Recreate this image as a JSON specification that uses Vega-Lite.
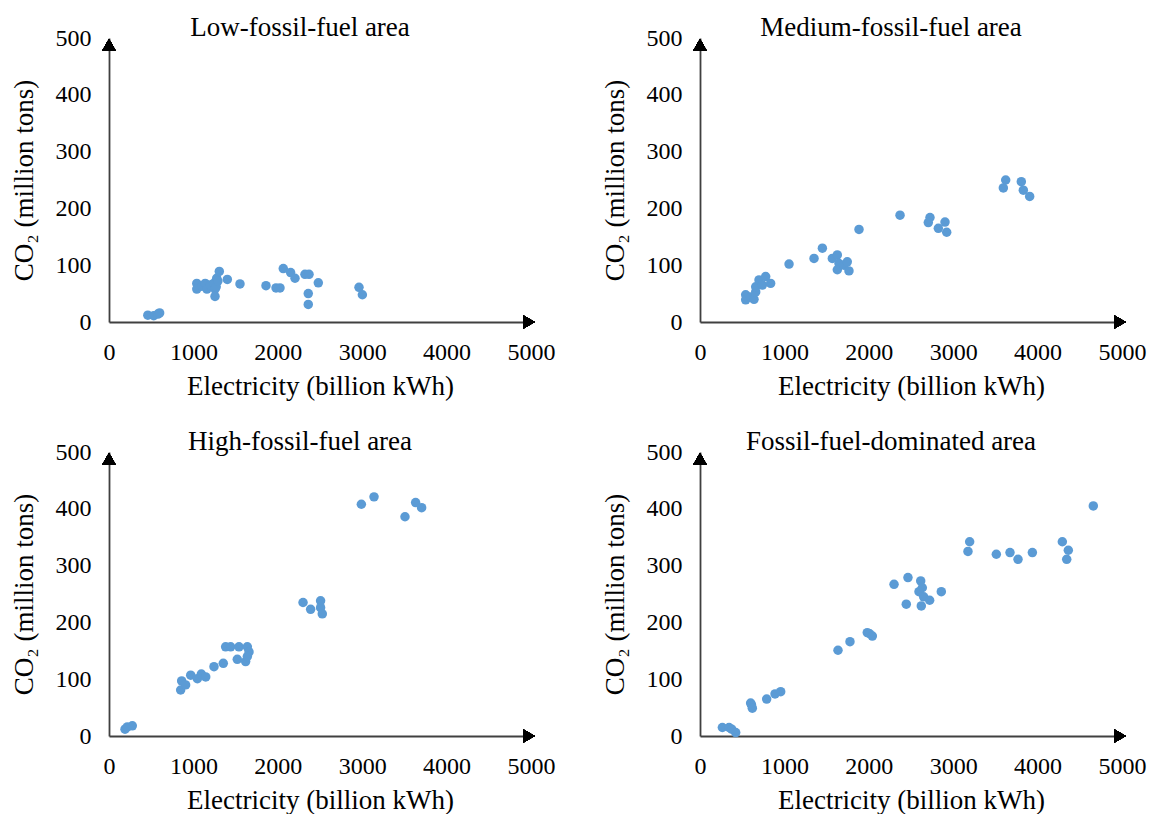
{
  "$schema": "https://vega.github.io/schema/vega-lite/v6.json",
  "padding": {"left": 10, "top": 14, "right": 5, "bottom": 5},
  "columns": 2,
  "spacing": {"row": 29, "column": 46},
  "config": {
    "view": {"stroke": null},
    "font": "Liberation Serif",
    "title": {"fontSize": 27, "fontWeight": "normal", "color": "#000", "offset": -16, "dx": -20},
    "axis": {
      "domain": true,
      "grid": false,
      "ticks": false,
      "domainColor": "#404040",
      "domainWidth": 1.8,
      "labelFont": "Liberation Serif",
      "labelFontSize": 24,
      "labelColor": "#000",
      "labelFlush": false,
      "labelOverlap": false,
      "format": "d",
      "titleFont": "Liberation Serif",
      "titleFontSize": 27,
      "titleFontWeight": "normal",
      "titleColor": "#000"
    },
    "axisX": {"labelPadding": 18, "titlePadding": 9},
    "axisY": {"labelPadding": 18, "titlePadding": 17}
  },
  "concat": [
    {
      "title": "Low-fossil-fuel  area",
      "width": 422,
      "height": 284,
      "data": {"values": [
        {"electricity": 460, "co2": 12}, {"electricity": 530, "co2": 11}, {"electricity": 580, "co2": 14}, {"electricity": 600, "co2": 16},
        {"electricity": 1040, "co2": 68}, {"electricity": 1040, "co2": 58}, {"electricity": 1100, "co2": 63}, {"electricity": 1140, "co2": 68},
        {"electricity": 1160, "co2": 58}, {"electricity": 1200, "co2": 65}, {"electricity": 1240, "co2": 68}, {"electricity": 1256, "co2": 58},
        {"electricity": 1256, "co2": 45}, {"electricity": 1270, "co2": 62}, {"electricity": 1276, "co2": 77}, {"electricity": 1290, "co2": 72},
        {"electricity": 1307, "co2": 89}, {"electricity": 1402, "co2": 75}, {"electricity": 1552, "co2": 67},
        {"electricity": 1860, "co2": 64}, {"electricity": 1979, "co2": 60}, {"electricity": 2026, "co2": 60}, {"electricity": 2065, "co2": 94},
        {"electricity": 2152, "co2": 87}, {"electricity": 2204, "co2": 77}, {"electricity": 2322, "co2": 84}, {"electricity": 2370, "co2": 84},
        {"electricity": 2480, "co2": 69}, {"electricity": 2361, "co2": 50}, {"electricity": 2361, "co2": 31},
        {"electricity": 2962, "co2": 61}, {"electricity": 3002, "co2": 48}
      ]},
      "encoding": {
        "x": {"field": "electricity", "type": "quantitative", "title": "Electricity (billion kWh)",
              "scale": {"domain": [0, 5000], "nice": false}, "axis": {"values": [0, 1000, 2000, 3000, 4000, 5000]}},
        "y": {"field": "co2", "type": "quantitative", "title": "CO₂ (million tons)",
              "scale": {"domain": [0, 500], "nice": false}, "axis": {"values": [0, 100, 200, 300, 400, 500]}}
      },
      "layer": [
        {"mark": {"type": "circle", "size": 90, "color": "#5B9BD5", "opacity": 1}},
        {"mark": {"type": "point", "shape": "triangle-right", "filled": true, "color": "#000", "opacity": 1, "size": 180},
         "encoding": {"x": {"datum": 4975, "type": "quantitative"}, "y": {"datum": 0, "type": "quantitative"}}},
        {"mark": {"type": "point", "shape": "triangle-up", "filled": true, "color": "#000", "opacity": 1, "size": 180},
         "encoding": {"x": {"datum": 0, "type": "quantitative"}, "y": {"datum": 488, "type": "quantitative"}}}
      ]
    },
    {
      "title": "Medium-fossil-fuel  area",
      "width": 422,
      "height": 284,
      "data": {"values": [
        {"electricity": 541, "co2": 48}, {"electricity": 541, "co2": 39}, {"electricity": 600, "co2": 44}, {"electricity": 640, "co2": 40},
        {"electricity": 660, "co2": 53}, {"electricity": 660, "co2": 62}, {"electricity": 699, "co2": 74}, {"electricity": 739, "co2": 65},
        {"electricity": 778, "co2": 80}, {"electricity": 837, "co2": 68}, {"electricity": 1055, "co2": 102}, {"electricity": 1351, "co2": 112},
        {"electricity": 1450, "co2": 130}, {"electricity": 1568, "co2": 112}, {"electricity": 1627, "co2": 118}, {"electricity": 1647, "co2": 103},
        {"electricity": 1627, "co2": 92}, {"electricity": 1706, "co2": 100}, {"electricity": 1745, "co2": 106}, {"electricity": 1765, "co2": 90},
        {"electricity": 1884, "co2": 163}, {"electricity": 2370, "co2": 188}, {"electricity": 2725, "co2": 184}, {"electricity": 2705, "co2": 175},
        {"electricity": 2824, "co2": 165}, {"electricity": 2903, "co2": 176}, {"electricity": 2923, "co2": 158},
        {"electricity": 3622, "co2": 250}, {"electricity": 3594, "co2": 236}, {"electricity": 3807, "co2": 247}, {"electricity": 3831, "co2": 232},
        {"electricity": 3906, "co2": 221}
      ]},
      "encoding": {
        "x": {"field": "electricity", "type": "quantitative", "title": "Electricity (billion kWh)",
              "scale": {"domain": [0, 5000], "nice": false}, "axis": {"values": [0, 1000, 2000, 3000, 4000, 5000]}},
        "y": {"field": "co2", "type": "quantitative", "title": "CO₂ (million tons)",
              "scale": {"domain": [0, 500], "nice": false}, "axis": {"values": [0, 100, 200, 300, 400, 500]}}
      },
      "layer": [
        {"mark": {"type": "circle", "size": 90, "color": "#5B9BD5", "opacity": 1}},
        {"mark": {"type": "point", "shape": "triangle-right", "filled": true, "color": "#000", "opacity": 1, "size": 180},
         "encoding": {"x": {"datum": 4975, "type": "quantitative"}, "y": {"datum": 0, "type": "quantitative"}}},
        {"mark": {"type": "point", "shape": "triangle-up", "filled": true, "color": "#000", "opacity": 1, "size": 180},
         "encoding": {"x": {"datum": 0, "type": "quantitative"}, "y": {"datum": 488, "type": "quantitative"}}}
      ]
    },
    {
      "title": "High-fossil-fuel area",
      "width": 422,
      "height": 284,
      "data": {"values": [
        {"electricity": 190, "co2": 12}, {"electricity": 217, "co2": 16}, {"electricity": 276, "co2": 18},
        {"electricity": 849, "co2": 81}, {"electricity": 861, "co2": 97}, {"electricity": 908, "co2": 90}, {"electricity": 968, "co2": 107},
        {"electricity": 1047, "co2": 101}, {"electricity": 1094, "co2": 109}, {"electricity": 1146, "co2": 104}, {"electricity": 1244, "co2": 122},
        {"electricity": 1354, "co2": 128}, {"electricity": 1382, "co2": 157}, {"electricity": 1441, "co2": 157}, {"electricity": 1540, "co2": 157},
        {"electricity": 1639, "co2": 157}, {"electricity": 1659, "co2": 148}, {"electricity": 1520, "co2": 135}, {"electricity": 1619, "co2": 131},
        {"electricity": 1639, "co2": 140}, {"electricity": 2299, "co2": 235}, {"electricity": 2389, "co2": 223}, {"electricity": 2507, "co2": 238},
        {"electricity": 2507, "co2": 226}, {"electricity": 2527, "co2": 215}, {"electricity": 2990, "co2": 408}, {"electricity": 3140, "co2": 421},
        {"electricity": 3507, "co2": 386}, {"electricity": 3633, "co2": 411}, {"electricity": 3704, "co2": 402}
      ]},
      "encoding": {
        "x": {"field": "electricity", "type": "quantitative", "title": "Electricity (billion kWh)",
              "scale": {"domain": [0, 5000], "nice": false}, "axis": {"values": [0, 1000, 2000, 3000, 4000, 5000]}},
        "y": {"field": "co2", "type": "quantitative", "title": "CO₂ (million tons)",
              "scale": {"domain": [0, 500], "nice": false}, "axis": {"values": [0, 100, 200, 300, 400, 500]}}
      },
      "layer": [
        {"mark": {"type": "circle", "size": 90, "color": "#5B9BD5", "opacity": 1}},
        {"mark": {"type": "point", "shape": "triangle-right", "filled": true, "color": "#000", "opacity": 1, "size": 180},
         "encoding": {"x": {"datum": 4975, "type": "quantitative"}, "y": {"datum": 0, "type": "quantitative"}}},
        {"mark": {"type": "point", "shape": "triangle-up", "filled": true, "color": "#000", "opacity": 1, "size": 180},
         "encoding": {"x": {"datum": 0, "type": "quantitative"}, "y": {"datum": 488, "type": "quantitative"}}}
      ]
    },
    {
      "title": "Fossil-fuel-dominated  area",
      "width": 422,
      "height": 284,
      "data": {"values": [
        {"electricity": 265, "co2": 15}, {"electricity": 344, "co2": 15}, {"electricity": 375, "co2": 12}, {"electricity": 423, "co2": 6},
        {"electricity": 600, "co2": 58}, {"electricity": 610, "co2": 55}, {"electricity": 620, "co2": 49}, {"electricity": 790, "co2": 65},
        {"electricity": 889, "co2": 74}, {"electricity": 956, "co2": 78}, {"electricity": 1635, "co2": 151}, {"electricity": 1777, "co2": 166},
        {"electricity": 1982, "co2": 182}, {"electricity": 2010, "co2": 180}, {"electricity": 2042, "co2": 176}, {"electricity": 2299, "co2": 267},
        {"electricity": 2464, "co2": 279}, {"electricity": 2615, "co2": 273}, {"electricity": 2634, "co2": 261}, {"electricity": 2595, "co2": 254},
        {"electricity": 2650, "co2": 245}, {"electricity": 2721, "co2": 239}, {"electricity": 2622, "co2": 229}, {"electricity": 2444, "co2": 232},
        {"electricity": 2859, "co2": 254}, {"electricity": 3195, "co2": 342}, {"electricity": 3175, "co2": 325}, {"electricity": 3511, "co2": 320},
        {"electricity": 3673, "co2": 323}, {"electricity": 3768, "co2": 311}, {"electricity": 3938, "co2": 323}, {"electricity": 4293, "co2": 342},
        {"electricity": 4364, "co2": 327}, {"electricity": 4345, "co2": 311}, {"electricity": 4660, "co2": 405}
      ]},
      "encoding": {
        "x": {"field": "electricity", "type": "quantitative", "title": "Electricity (billion kWh)",
              "scale": {"domain": [0, 5000], "nice": false}, "axis": {"values": [0, 1000, 2000, 3000, 4000, 5000]}},
        "y": {"field": "co2", "type": "quantitative", "title": "CO₂ (million tons)",
              "scale": {"domain": [0, 500], "nice": false}, "axis": {"values": [0, 100, 200, 300, 400, 500]}}
      },
      "layer": [
        {"mark": {"type": "circle", "size": 90, "color": "#5B9BD5", "opacity": 1}},
        {"mark": {"type": "point", "shape": "triangle-right", "filled": true, "color": "#000", "opacity": 1, "size": 180},
         "encoding": {"x": {"datum": 4975, "type": "quantitative"}, "y": {"datum": 0, "type": "quantitative"}}},
        {"mark": {"type": "point", "shape": "triangle-up", "filled": true, "color": "#000", "opacity": 1, "size": 180},
         "encoding": {"x": {"datum": 0, "type": "quantitative"}, "y": {"datum": 488, "type": "quantitative"}}}
      ]
    }
  ]
}
